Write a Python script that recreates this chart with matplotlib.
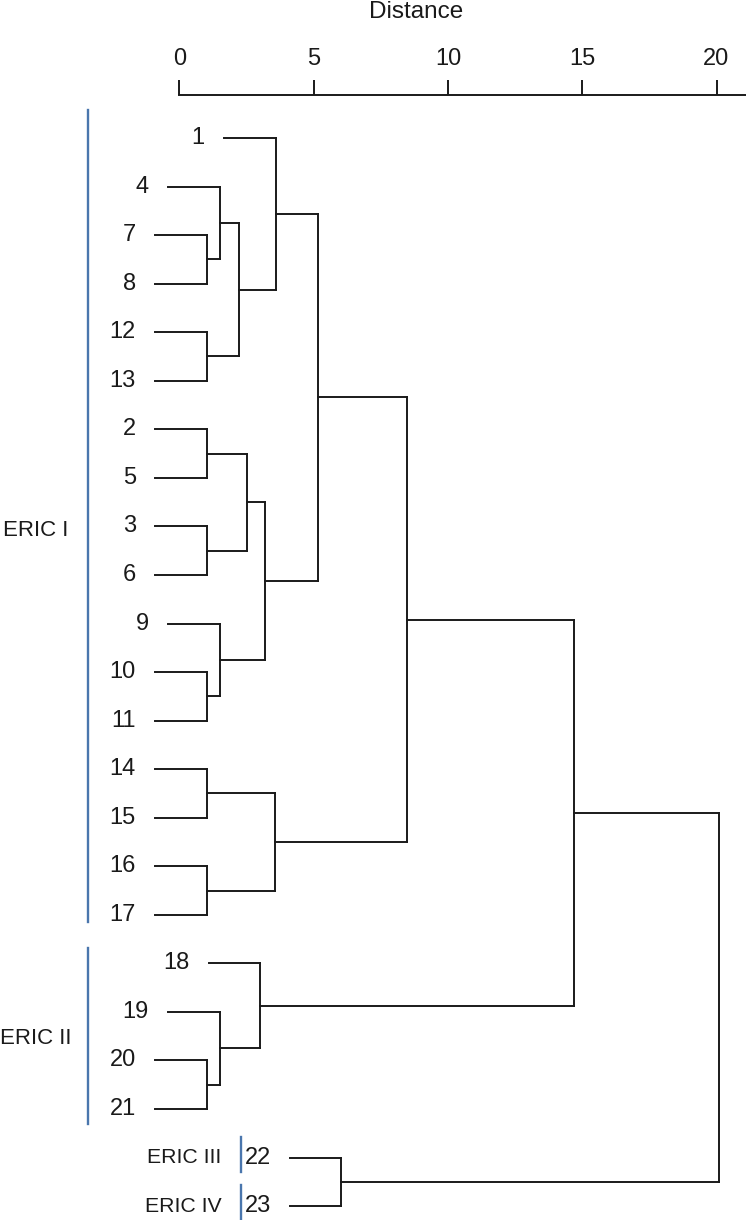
import matplotlib
matplotlib.use('Agg')
import matplotlib.pyplot as plt

plt.rcParams['font.family'] = ['Liberation Sans', 'DejaVu Sans']

# leaf labels, top to bottom
leaves = ['1', '4', '7', '8', '12', '13', '2', '5', '3', '6', '9', '10', '11',
          '14', '15', '16', '17', '18', '19', '20', '21', '22', '23']
# distance where each leaf line begins
leaf_start = [1.66, -0.43, -0.91, -0.91, -0.91, -0.91, -0.91, -0.91, -0.91, -0.91,
              -0.43, -0.91, -0.91, -0.91, -0.91, -0.91, -0.91, 1.10, -0.43, -0.91,
              -0.91, 4.12, 4.12]
# merges: (node a, node b, distance); leaves are 0..22, new nodes numbered from 23
merges = [
    (2, 3, 1.03), (1, 23, 1.51), (4, 5, 1.03), (24, 25, 2.22), (0, 26, 3.59),
    (6, 7, 1.03), (8, 9, 1.03), (28, 29, 2.50), (11, 12, 1.03), (10, 31, 1.51),
    (30, 32, 3.20), (27, 33, 5.16), (13, 14, 1.03), (15, 16, 1.03), (35, 36, 3.56),
    (34, 37, 8.46), (19, 20, 1.03), (18, 39, 1.51), (17, 40, 3.00), (38, 41, 14.69),
    (21, 22, 6.01), (42, 43, 20.09),
]
# groups: name, first leaf, last leaf
groups = [('ERIC I', 0, 16), ('ERIC II', 17, 20), ('ERIC III', 21, 21), ('ERIC IV', 22, 22)]
dist_ticks = [0, 5, 10, 15, 20]

W, H, DPI = 746, 1220, 100
fig = plt.figure(figsize=(W / DPI, H / DPI), dpi=DPI)
ax = fig.add_axes([0, 0, 1, (H - 95) / H])

px_per_unit = 26.85
x0_px = 179.5
row_px = 48.55
row0_px = 138
ax.set_xlim(-x0_px / px_per_unit, (W - x0_px) / px_per_unit)
ax.set_ylim((H - row0_px) / row_px, (95 - row0_px) / row_px)

lw = 1.4
ink = '#1a1a1a'
fs = 17

# node positions
node_x = list(leaf_start)
node_y = list(range(len(leaves)))
for a, b, d in merges:
    for c in (a, b):
        ax.plot([node_x[c], d], [node_y[c], node_y[c]], color=ink, lw=lw, solid_capstyle='projecting')
    ax.plot([d, d], [node_y[a], node_y[b]], color=ink, lw=lw, solid_capstyle='projecting')
    node_x.append(d)
    node_y.append((node_y[a] + node_y[b]) / 2)

for i, lab in enumerate(leaves):
    ax.text(leaf_start[i] - 0.72, i, lab, ha='right', va='center', fontsize=fs, color=ink)

# group bars and names
blue = '#4a76ad'
bar_x = {'ERIC I': -3.41, 'ERIC II': -3.41, 'ERIC III': 2.29, 'ERIC IV': 2.29}
bar_pad = {'ERIC I': (-0.58, 0.15), 'ERIC II': (-0.32, 0.31),
           'ERIC III': (-0.42, 0.30), 'ERIC IV': (-0.43, 0.30)}
for name, first, last in groups:
    top = first + bar_pad[name][0]
    bot = last + bar_pad[name][1]
    ax.plot([bar_x[name], bar_x[name]], [top, bot], color=blue, lw=1.7, clip_on=False)
    mid = (first + last) / 2
    if name in ('ERIC I', 'ERIC II'):
        ax.text(-5.37, mid + (0.08 if name == 'ERIC I' else 0.05), name,
                ha='center', va='center', fontsize=16, color=ink)
    else:
        ax.text(1.57, mid, name, ha='right', va='center', fontsize=15.3, color=ink)

# distance axis on top
for s in ('left', 'right', 'bottom'):
    ax.spines[s].set_visible(False)
ax.spines['top'].set_bounds(0, (W - x0_px) / px_per_unit)
ax.spines['top'].set_linewidth(lw)
ax.spines['top'].set_color(ink)
ax.xaxis.tick_top()
ax.set_xticks(dist_ticks)
ax.set_xticklabels([str(t) for t in dist_ticks])
ax.tick_params(axis='x', direction='out', length=11, width=lw, colors=ink,
               labelsize=fs, pad=7)
ax.set_yticks([])
fig.text(416 / W, 1 - 12 / H, 'Distance', ha='center', va='center', fontsize=17.5, color=ink)

fig.savefig('out.png', dpi=DPI)
